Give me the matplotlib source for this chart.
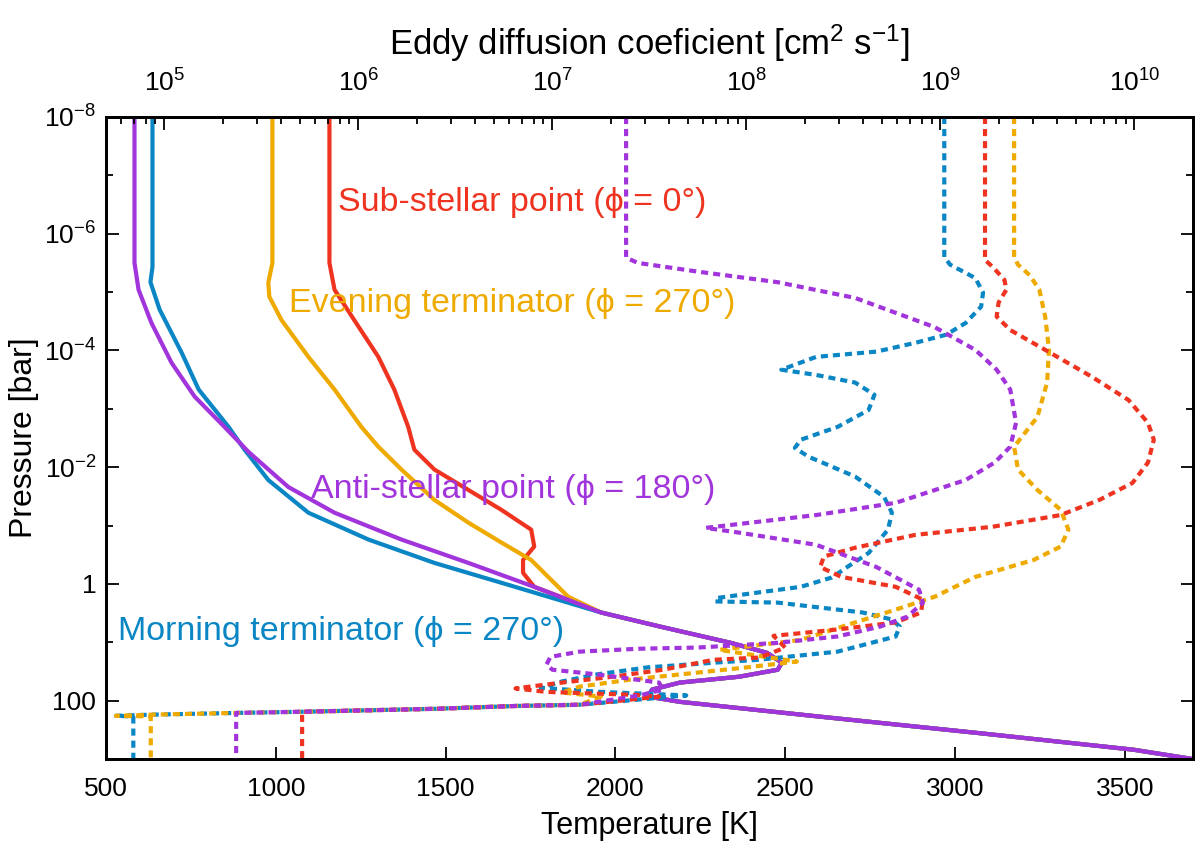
import numpy as np
import matplotlib
matplotlib.use("Agg")
import matplotlib.pyplot as plt
from matplotlib.ticker import FixedLocator, NullFormatter, LogLocator

plt.rcParams['font.family'] = ['Liberation Sans', 'DejaVu Sans']
plt.rcParams['mathtext.fontset'] = 'custom'
plt.rcParams['mathtext.rm'] = 'Liberation Sans'
plt.rcParams['mathtext.it'] = 'Liberation Sans'

# ---------------- data (temperature profiles) ----------------
# deep common part (T [K], log10 P [bar])
deep_T = [1958, 2131, 2340, 2446, 2490, 2478, 2364, 2190, 2108, 2096, 2190, 2596, 3061, 3525, 3700]
deep_logP = [0.49, 0.73, 1.01, 1.18, 1.35, 1.47, 1.59, 1.69, 1.81, 1.93, 2.02, 2.27, 2.55, 2.84, 3.0]

purple_T = [584, 584, 596, 634, 693, 761, 849, 920, 1037, 1173, 1370, 1567, 1761]
purple_logP = [-8.0, -5.50, -5.04, -4.47, -3.79, -3.21, -2.69, -2.26, -1.66, -1.22, -0.76, -0.36, 0.05]

blue_T = [637, 637, 631, 658, 723, 773, 861, 908, 978, 1096, 1273, 1467, 1664]
blue_logP = [-8.0, -5.43, -5.17, -4.70, -3.96, -3.33, -2.69, -2.30, -1.78, -1.22, -0.76, -0.36, -0.02]

orange_T = [990, 990, 978, 981, 1017, 1096, 1173, 1252, 1302, 1370, 1467, 1567, 1664, 1752, 1802, 1861]
orange_logP = [-8.0, -5.50, -5.16, -4.92, -4.52, -3.89, -3.33, -2.69, -2.35, -1.96, -1.44, -1.05, -0.71, -0.41, -0.12, 0.22]

red_T = [1158, 1158, 1173, 1231, 1302, 1349, 1390, 1408, 1467, 1567, 1664, 1752, 1761, 1728, 1728, 1761, 1861]
red_logP = [-8.0, -5.50, -5.04, -4.52, -3.89, -3.33, -2.69, -2.30, -1.96, -1.61, -1.27, -0.93, -0.64, -0.41, -0.19, 0.05, 0.27]

# ---------------- data (eddy diffusion, log10 Kzz vs log10 P) ----------------
purple_logK = [7.38, 7.38, 7.44, 7.75, 8.16, 8.56, 8.97, 9.18, 9.29, 9.36, 9.39, 9.36, 9.28, 9.13,
               8.77, 8.36, 7.79, 7.96, 8.36, 8.67, 8.89, 8.91, 8.83, 8.69, 8.47, 8.16, 7.75, 7.45,
               7.14, 6.99, 6.97, 7.00, 7.23, 7.55, 7.57, 7.45, 7.14, 6.82, 6.39, 5.70, 5.37, 5.37]
purple_kzz_logP = [-8.0, -5.59, -5.50, -5.35, -5.17, -4.90, -4.40, -4.01, -3.67, -3.33, -2.76, -2.35, -2.08, -1.78,
                   -1.39, -1.18, -0.96, -0.88, -0.67, -0.29, 0.10, 0.32, 0.56, 0.73, 0.90, 1.01, 1.09, 1.11,
                   1.16, 1.25, 1.38, 1.47, 1.55, 1.69, 1.81, 1.91, 2.07, 2.09, 2.14, 2.19, 2.21, 3.0]

blue_logK = [9.02, 9.02, 9.05, 9.18, 9.22, 9.21, 9.13, 9.03, 8.87, 8.67, 8.36, 8.18, 8.36, 8.56,
             8.66, 8.63, 8.47, 8.28, 8.25, 8.32, 8.56, 8.71, 8.75, 8.73, 8.63, 8.52, 8.44, 8.28,
             7.85, 7.84, 8.16, 8.60, 8.75, 8.79, 8.77, 8.47, 8.06, 7.83, 7.49, 7.23, 7.05, 6.94,
             7.25, 7.69, 7.45, 7.14, 6.82, 6.39, 5.71, 5.37, 4.93, 4.75, 4.84, 4.84]
blue_kzz_logP = [-8.0, -5.60, -5.47, -5.24, -4.99, -4.75, -4.47, -4.27, -4.13, -3.98, -3.89, -3.67, -3.58, -3.45,
                 -3.24, -2.98, -2.69, -2.47, -2.33, -2.18, -1.84, -1.49, -1.22, -0.93, -0.53, -0.29, -0.11, 0.05,
                 0.24, 0.30, 0.32, 0.49, 0.61, 0.73, 0.90, 1.16, 1.30, 1.35, 1.43, 1.55, 1.67, 1.78,
                 1.85, 1.91, 1.98, 2.07, 2.09, 2.14, 2.19, 2.21, 2.24, 2.26, 2.27, 3.0]

red_logK = [9.23, 9.23, 9.27, 9.33, 9.34, 9.30, 9.29, 9.36, 9.54, 9.78, 9.97, 10.07, 10.10, 10.07,
            9.99, 9.82, 9.62, 9.27, 8.87, 8.56, 8.40, 8.38, 8.49, 8.77, 8.91, 8.90, 8.77, 8.47,
            8.14, 8.20, 8.07, 7.83, 7.57, 7.31, 7.05, 6.81, 6.97, 7.42, 7.55, 7.35, 7.14, 6.82,
            6.39, 5.71, 5.71]
red_kzz_logP = [-8.0, -5.55, -5.43, -5.21, -5.04, -4.82, -4.58, -4.35, -4.01, -3.55, -3.15, -2.76, -2.47, -2.08,
                -1.73, -1.44, -1.18, -0.98, -0.84, -0.62, -0.47, -0.29, -0.12, 0.05, 0.27, 0.49, 0.66, 0.78,
                0.89, 1.09, 1.26, 1.30, 1.47, 1.59, 1.69, 1.79, 1.85, 1.90, 1.93, 2.00, 2.07, 2.09,
                2.14, 2.19, 3.0]

orange_logK = [9.38, 9.38, 9.40, 9.46, 9.51, 9.54, 9.56, 9.55, 9.50, 9.38, 9.40, 9.50, 9.62, 9.66,
               9.62, 9.48, 9.18, 8.97, 8.77, 8.56, 8.28, 7.86, 8.26, 8.00, 7.66, 7.40, 7.14, 7.05,
               7.25, 7.14, 6.82, 6.39, 5.71, 5.37, 4.93, 4.75, 4.93, 4.93]
orange_kzz_logP = [-8.0, -5.60, -5.47, -5.29, -5.04, -4.58, -4.01, -3.45, -2.86, -2.35, -1.96, -1.61, -1.27, -0.93,
                   -0.64, -0.41, -0.12, 0.22, 0.44, 0.66, 0.96, 1.13, 1.33, 1.43, 1.55, 1.64, 1.76, 1.86,
                   1.93, 2.07, 2.09, 2.14, 2.19, 2.21, 2.24, 2.26, 2.27, 3.0]

labels = ["Sub-stellar point (\u03d5 = 0\u00b0)", "Evening terminator (\u03d5 = 270\u00b0)",
          "Anti-stellar point (\u03d5 = 180\u00b0)", "Morning terminator (\u03d5 = 270\u00b0)"]

C_RED = '#EE3420'
C_ORANGE = '#EFAA00'
C_BLUE = '#0A86C4'
C_PURPLE = '#A234DC'

# ---------------- figure ----------------
fig = plt.figure(figsize=(12, 8.6), dpi=100)
ax = fig.add_axes([0.0883, 0.1174, 0.9057, 0.7466])
ax2 = ax.twiny()

lw = 3.0
dash = (1.7, 1.2)

def tprof(T, lp):
    return np.array(list(T) + deep_T), np.power(10.0, np.array(list(lp) + deep_logP))

def kprof(lk, lp):
    return np.power(10.0, np.array(lk)), np.power(10.0, np.array(lp))

# dotted Kzz curves (top axis)
for lk, lp, c in [(blue_logK, blue_kzz_logP, C_BLUE), (orange_logK, orange_kzz_logP, C_ORANGE),
                  (red_logK, red_kzz_logP, C_RED), (purple_logK, purple_kzz_logP, C_PURPLE)]:
    k, p = kprof(lk, lp)
    ax2.plot(k, p, color=c, lw=lw, linestyle=(0, dash), dash_capstyle='butt')

# solid temperature curves (bottom axis)
for T, lp, c in [(red_T, red_logP, C_RED), (orange_T, orange_logP, C_ORANGE),
                 (blue_T, blue_logP, C_BLUE), (purple_T, purple_logP, C_PURPLE)]:
    t, p = tprof(T, lp)
    ax.plot(t, p, color=c, lw=lw, solid_joinstyle='round')

ax.set_yscale('log')
ax.set_ylim(1e3, 1e-8)
ax.set_xlim(500, 3700)
ax2.set_xscale('log')
ax2.set_xlim(5e4, 2e10)
ax2.set_ylim(1e3, 1e-8)

# y ticks
major_y = [1e-8, 1e-6, 1e-4, 1e-2, 1, 100]
ylabels = [r'10$^{-8}$', r'10$^{-6}$', r'10$^{-4}$', r'10$^{-2}$', '1', '100']
ax.yaxis.set_major_locator(FixedLocator(major_y))
ax.set_yticklabels(ylabels)
ax.yaxis.set_minor_locator(FixedLocator([1e-7, 1e-5, 1e-3, 1e-1, 10, 1000]))
ax.yaxis.set_minor_formatter(NullFormatter())

# x ticks (temperature)
ax.set_xticks([500, 1000, 1500, 2000, 2500, 3000, 3500])
ax.set_xticklabels(['500', '1000', '1500', '2000', '2500', '3000', '3500'])

# top ticks
ax2.xaxis.set_major_locator(FixedLocator([1e5, 1e6, 1e7, 1e8, 1e9, 1e10]))
ax2.set_xticklabels([r'10$^{5}$', r'10$^{6}$', r'10$^{7}$', r'10$^{8}$', r'10$^{9}$', r'10$^{10}$'])
ax2.xaxis.set_minor_locator(LogLocator(base=10, subs=np.arange(2, 10), numticks=50))
ax2.xaxis.set_minor_formatter(NullFormatter())

for a in (ax, ax2):
    a.tick_params(which='both', direction='in', labelsize=19, width=1.3)
    a.tick_params(which='major', length=9)
    a.tick_params(which='minor', length=5)
    for s in a.spines.values():
        s.set_linewidth(2.0)
ax.tick_params(axis='x', which='major', pad=13)
ax.tick_params(axis='y', which='major', pad=7)
ax2.tick_params(axis='x', which='major', pad=15)
ax.tick_params(axis='y', which='both', right=True)
ax.tick_params(axis='x', which='both', top=False)
ax2.tick_params(axis='y', which='both', left=False, right=False, labelleft=False, labelright=False)

ax.set_xlabel('Temperature [K]', fontsize=22, labelpad=7)
ax.set_ylabel('Pressure [bar]', fontsize=23, labelpad=4)
ax2.set_xlabel(r'Eddy diffusion coeficient [cm$^{2}$ s$^{-1}$]', fontsize=25, labelpad=10)

# curve labels
ax.text(1184, 10**-6.53, labels[0], color=C_RED, fontsize=24.5, va='center', ha='left')
ax.text(1040, 10**-4.80, labels[1], color=C_ORANGE, fontsize=24.5, va='center', ha='left')
ax.text(1105, 10**-1.62, labels[2], color=C_PURPLE, fontsize=24.5, va='center', ha='left')
ax.text(535, 10**0.82, labels[3], color=C_BLUE, fontsize=24.5, va='center', ha='left')

fig.savefig('out.png', dpi=100)
